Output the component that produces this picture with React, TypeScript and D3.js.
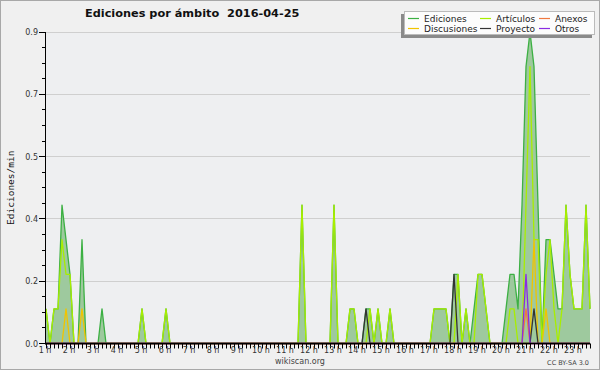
import React from "react";
import * as d3 from "d3";

// ---- data (10-minute bins, edits per minute) ----
const TIME_START = "1:00";
const TIME_END = "23:40";
const STEP_MIN = 10;

const ediciones: [string, number][] = [
  ["1:00", 0.1], ["1:20", 0.1], ["1:30", 0.1], ["1:40", 0.4], ["1:50", 0.3], ["2:00", 0.2],
  ["2:30", 0.3], ["3:20", 0.1], ["5:00", 0.1], ["6:00", 0.1], ["11:40", 0.4], ["13:00", 0.4],
  ["13:40", 0.1], ["13:50", 0.1], ["14:20", 0.1], ["14:30", 0.1], ["14:50", 0.1], ["15:20", 0.1],
  ["17:10", 0.1], ["17:20", 0.1], ["17:30", 0.1], ["17:40", 0.1], ["18:00", 0.2], ["18:10", 0.2],
  ["18:30", 0.1], ["18:50", 0.1], ["19:00", 0.2], ["19:10", 0.2], ["19:20", 0.1],
  ["20:10", 0.1], ["20:20", 0.2], ["20:30", 0.2], ["20:40", 0.1], ["20:50", 0.4], ["21:00", 0.8],
  ["21:10", 0.9], ["21:20", 0.8], ["21:30", 0.4], ["21:50", 0.3], ["22:00", 0.3], ["22:10", 0.2],
  ["22:20", 0.1], ["22:30", 0.1], ["22:40", 0.4], ["22:50", 0.2], ["23:00", 0.1], ["23:10", 0.1],
  ["23:20", 0.1], ["23:30", 0.4], ["23:40", 0.1],
];
const articulos: [string, number][] = [
  ["1:00", 0.1], ["1:20", 0.1], ["1:30", 0.1], ["1:40", 0.3], ["1:50", 0.2], ["2:00", 0.2],
  ["5:00", 0.1], ["6:00", 0.1], ["11:40", 0.4], ["13:00", 0.4], ["13:40", 0.1], ["13:50", 0.1],
  ["14:30", 0.1], ["14:50", 0.1], ["15:20", 0.1], ["17:10", 0.1], ["17:20", 0.1], ["17:30", 0.1],
  ["17:40", 0.1], ["18:10", 0.2], ["18:30", 0.1], ["19:00", 0.2], ["19:10", 0.2], ["19:20", 0.1],
  ["20:20", 0.1], ["20:30", 0.1], ["21:00", 0.4], ["21:10", 0.8], ["21:20", 0.3], ["21:30", 0.3],
  ["21:50", 0.2], ["22:00", 0.3], ["22:10", 0.1], ["22:30", 0.1], ["22:40", 0.4], ["22:50", 0.2],
  ["23:00", 0.1], ["23:10", 0.1], ["23:20", 0.1], ["23:30", 0.4], ["23:40", 0.1],
];
const anexos: [string, number][] = [["21:00", 0.1]];
const discusiones: [string, number][] = [["1:50", 0.1], ["2:30", 0.1], ["21:20", 0.3], ["21:50", 0.1]];
const proyecto: [string, number][] = [["14:20", 0.1], ["18:00", 0.2], ["21:20", 0.1]];
const otros: [string, number][] = [["21:00", 0.2]];

const SERIES_NAMES = ["Ediciones", "Artículos", "Anexos", "Discusiones", "Proyecto", "Otros"];
const SERIES_COLORS = ["#3cb043", "#a8ee00", "#f07840", "#f0c400", "#333333", "#8a2be2"];
const SERIES_DATA = [ediciones, articulos, anexos, discusiones, proyecto, otros];

const Y_MAX = 0.9;
const Y_TICK_LABELS = ["0.0", "0.2", "0.4", "0.5", "0.7", "0.9"];
const HOUR_LABELS = [1, 2, 3, 4, 5, 6, 7, 8, 9, 10, 11, 12, 13, 14, 15, 16, 17, 18, 19, 20, 21, 22, 23];

const TITLE = "Ediciones por ámbito  2016-04-25";
const Y_TITLE = "Ediciones/min";

// ---- layout ----
const W = 600, H = 370;
const L = 46, R = 590, T = 32, B = 343.5;

const toMin = (s: string) => {
  const [h, m] = s.split(":").map(Number);
  return h * 60 + m;
};

const times = d3.range(toMin(TIME_START), toMin(TIME_END) + 1, STEP_MIN);
const dense = (pts: [string, number][]) => {
  const m = new Map(pts.map(([t, v]) => [toMin(t), v]));
  return times.map((t) => ({ t, v: m.get(t) ?? 0 }));
};

export default function App() {
  const x = d3.scaleLinear().domain([toMin(TIME_START), toMin(TIME_END)]).range([L, R]);
  const y = d3.scaleLinear().domain([0, Y_MAX]).range([B, T]);
  const series = SERIES_DATA.map(dense);
  const line = d3.line<{ t: number; v: number }>().x((d) => x(d.t)).y((d) => y(d.v));
  const area = d3.area<{ t: number; v: number }>().x((d) => x(d.t)).y0(y(0)).y1((d) => y(d.v));

  const majorY = Y_TICK_LABELS.map((_, i) => (i * Y_MAX) / (Y_TICK_LABELS.length - 1));
  const minorY = d3.range(0, 21).map((i) => (i * Y_MAX) / 20);
  const xTicks = times;
  const py = (v: number) => Math.floor(y(v)) + 0.5;

  const sans = "'DejaVu Sans', Verdana, sans-serif";
  const legendCols = [408, 480, 539];
  const legendRows = [18.5, 28.5];

  return (
    <div style={{ position: "fixed", left: 0, top: 0 }}>
      <svg width={W} height={H} style={{ display: "block" }}>
        <rect x={0} y={0} width={W} height={H} fill="#f0f0f0" />
        <rect x={0.5} y={0.5} width={W - 1} height={H - 1} fill="none" stroke="#a8a8a8" />
        <rect x={L} y={T} width={R - L} height={B - T} fill="#eeeff1" />
        {majorY.slice(1).map((v, i) => (
          <line key={"g" + i} x1={L} x2={R} y1={py(v)} y2={py(v)} stroke="#cfcfcf" />
        ))}
        <path d={area(series[0]) || ""} fill="#9ec99e" />
        {series.map((s, i) => (
          <path key={"s" + i} d={line(s) || ""} fill="none" stroke={SERIES_COLORS[i]} strokeWidth={1.3} strokeLinejoin="round" />
        ))}
        {/* axes */}
        <line x1={L - 0.5} x2={L - 0.5} y1={T} y2={B + 1} stroke="#000" />
        <line x1={L - 1} x2={R} y1={B} y2={B} stroke="#000" strokeWidth={1.6} />
        {minorY.map((v, i) => (
          <line key={"my" + i} x1={L - 4} x2={L} y1={py(v)} y2={py(v)} stroke="#000" />
        ))}
        {majorY.map((v, i) => (
          <g key={"yl" + i}>
            <line x1={L - 7} x2={L} y1={py(v)} y2={py(v)} stroke="#000" />
            <text x={L - 8} y={y(v) + 3} textAnchor="end" fontFamily={sans} fontSize={8} fill="#333">
              {Y_TICK_LABELS[i]}
            </text>
          </g>
        ))}
        {xTicks.map((t, i) => (
          <line key={"xt" + i} x1={Math.round(x(t)) + 0.5} x2={Math.round(x(t)) + 0.5} y1={B} y2={B + 5} stroke="#000" />
        ))}
        {HOUR_LABELS.map((h) => (
          <text key={"hl" + h} x={x(h * 60) - 1} y={353} textAnchor="middle" fontFamily={sans} fontSize={8} fill="#333">
            {h} h
          </text>
        ))}
        <text transform={`translate(14,${(T + B) / 2}) rotate(-90)`} textAnchor="middle" fontFamily="'DejaVu Sans Mono', monospace" fontSize={9.5} fill="#111">
          {Y_TITLE}
        </text>
        <text x={85} y={17} fontFamily={sans} fontWeight="bold" fontSize={11.3} fill="#111" style={{ whiteSpace: "pre" }}>
          {TITLE}
        </text>
        <text x={300} y={364} textAnchor="middle" fontFamily={sans} fontSize={8} fill="#444">
          wikiscan.org
        </text>
        <text x={589} y={365} textAnchor="end" fontFamily={sans} fontSize={6.5} fill="#444">
          CC BY-SA 3.0
        </text>
        {/* legend */}
        <rect x={401} y={14} width={191} height={24} fill="#8a8a8a" />
        <rect x={404.5} y={11.5} width={190} height={23} fill="#fcfcfc" stroke="#bbbbbb" />
        {SERIES_NAMES.map((name, i) => {
          const col = i % 3;
          const row = Math.floor(i / 3);
          const lx = legendCols[col];
          const ly = legendRows[row];
          return (
            <g key={"lg" + i}>
              <line x1={lx} x2={lx + 11} y1={ly} y2={ly} stroke={SERIES_COLORS[i]} strokeWidth={1.2} />
              <text x={lx + 16} y={ly + 3.5} fontFamily={sans} fontSize={9} fill="#222">
                {name}
              </text>
            </g>
          );
        })}
      </svg>
    </div>
  );
}
